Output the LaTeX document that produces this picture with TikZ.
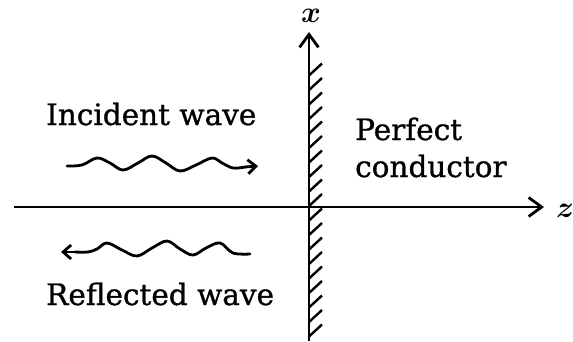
\RequirePackage{fix-cm}
\documentclass[tikz,border=0pt]{standalone}
\usepackage{bm}
\usepackage{fontspec}
\setmainfont{DejaVu Serif}[FakeBold=0.9]
\usetikzlibrary{arrows.meta}
\begin{document}
\begin{tikzpicture}[x=1pt,y=-1pt,
  axisline/.style={line width=2.6pt},
  hatchline/.style={line width=2.4pt},
  waveline/.style={line width=2.8pt,line join=round,line cap=round},
  bigtip/.style={-{Straight Barb[length=13pt,width=19pt,line width=2.8pt]}},
  smalltip/.style={-{Straight Barb[length=8pt,width=14pt,line width=2.8pt]}},
  lbl/.style={inner sep=0pt,font=\fontsize{29.5}{37}\selectfont},
  axlbl/.style={inner sep=0pt,font=\fontsize{30}{30}\selectfont}]
\useasboundingbox (0,0) rectangle (573,341);
% axes
\coordinate (zs) at (14,207);
\coordinate (ze) at (544,207);
\coordinate (xs) at (309,341);
\coordinate (xe) at (309,32);
\draw[axisline,bigtip] (zs) -- (ze);
\draw[axisline,bigtip] (xs) -- (xe);
\node[axlbl] (zl) at (565,211) {$\bm{z}$};
\node[axlbl] (xl) at (311,16) {$\bm{x}$};
% hatching
\foreach \k in {-9,...,9}{
  \draw[hatchline] (309,206+14.5*\k) -- ++(13,-12);
}
% labels
\node[lbl,anchor=base west] (inc) at (46,125) {Incident wave};
\node[lbl,anchor=base west] (ref) at (46,305) {Reflected wave};
\node[lbl,anchor=base west] (perf) at (355,140) {Perfect};
\node[lbl,anchor=base west] (cond) at (355,177) {conductor};
% waves
\coordinate (iw0) at (67,166);
\coordinate (iw1) at (258,166);
\draw[waveline] plot[smooth,tension=0.6] coordinates {(67,166) (82,165) (97,158) (110,163) (123,170) (138,163) (152,156) (166,163) (180,171) (196,165) (212,158) (222,163) (233,168) (245,167)};
\draw[waveline,smalltip] (245,167) -- (iw1);
\coordinate (rw0) at (250,253);
\coordinate (rw1) at (61,252);
\draw[waveline] plot[smooth,tension=0.6] coordinates {(250,254) (233,253) (220,243) (206,248) (193,255) (180,249) (167,241) (152,248) (137,256) (122,250) (107,243) (97,249) (88,252) (75,252)};
\draw[waveline,smalltip] (75,252) -- (rw1);
\end{tikzpicture}
\end{document}
